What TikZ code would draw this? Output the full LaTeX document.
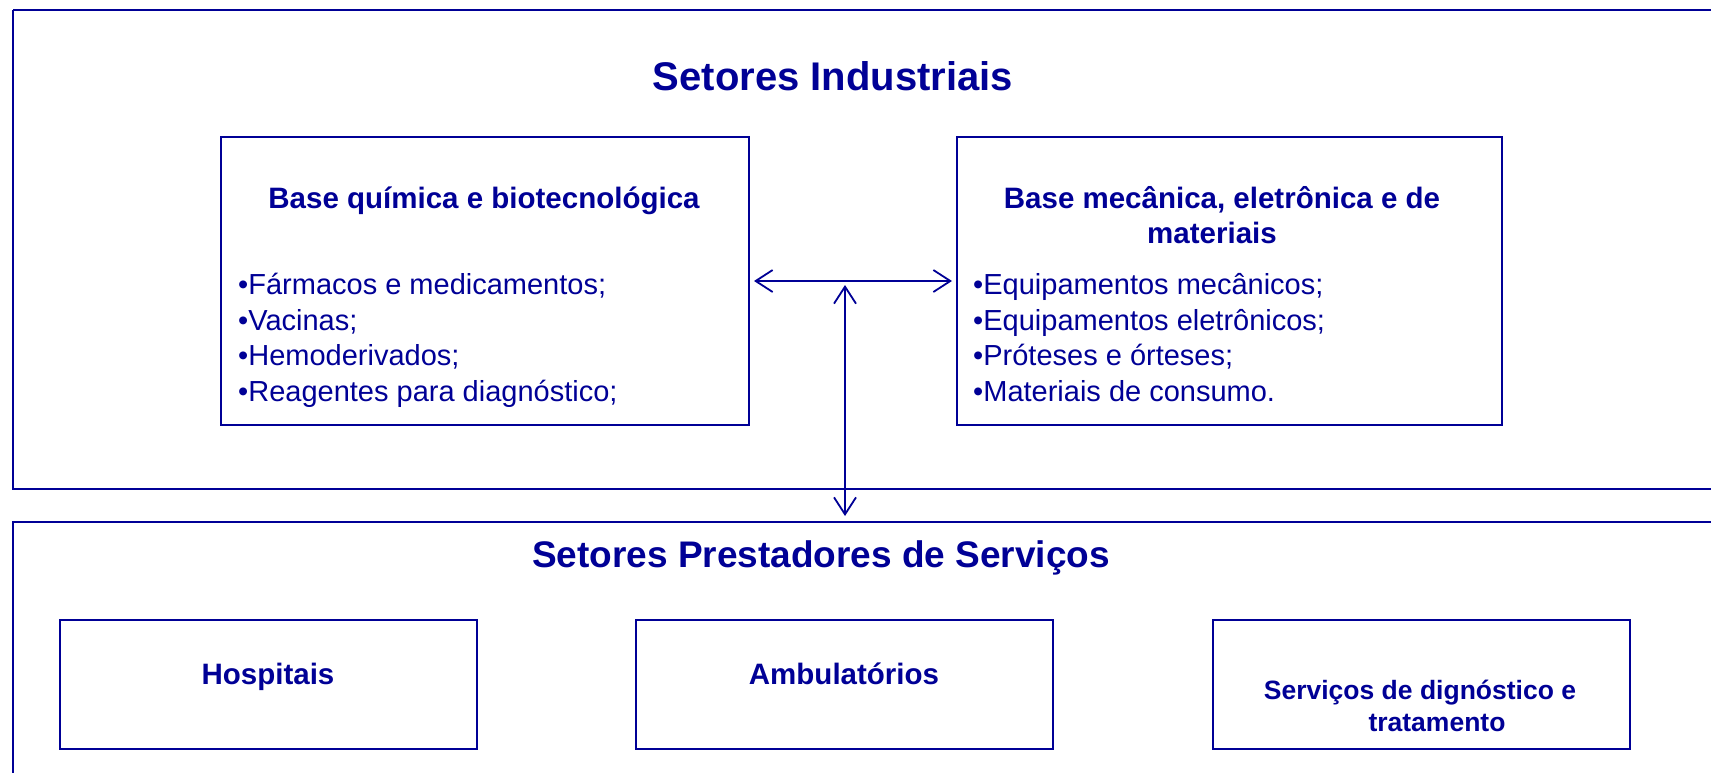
\documentclass[tikz,border=0pt]{standalone}
\usepackage{fontspec}
\setmainfont{Liberation Sans}
\usetikzlibrary{arrows.meta,calc}
\definecolor{navy}{RGB}{0,0,150}
\begin{document}
\begin{tikzpicture}[x=1pt,y=-1pt,
  frame/.style={draw=navy,line width=2pt},
  boxshape/.style={draw=navy,line width=2pt,inner sep=0pt,minimum width=#1},
  titletext/.style={text=navy,font=\bfseries\fontsize{#1}{40}\selectfont,inner sep=0pt,anchor=base},
  headtext/.style={text=navy,font=\bfseries\fontsize{29.5}{35}\selectfont,inner sep=0pt,anchor=base,align=center},
  listtext/.style={text=navy,font=\fontsize{29}{35.6}\selectfont,inner sep=0pt,anchor=base west,align=left},
  smalltext/.style={text=navy,font=\bfseries\fontsize{26.5}{32}\selectfont,inner sep=0pt,anchor=base,align=center},
  link/.style={draw=navy,line width=1.8pt,{Straight Barb[length=17pt,width=22pt,line width=1.8pt]}-{Straight Barb[length=17pt,width=22pt,line width=1.8pt]}}]
\useasboundingbox (0,0) rectangle (1711,772);
\fill[white] (0,0) rectangle (1711,772);
% outer frames
\draw[frame] (13,10) -- (1725,10) (13,10) -- (13,489) -- (1725,489);
\draw[frame] (1725,522) -- (13,522) -- (13,790);
% inner boxes
\node[boxshape=528pt,minimum height=288pt] (lbox) at (485,281) {};
\node[boxshape=545pt,minimum height=288pt] (rbox) at (1229.5,281) {};
\node[boxshape=417pt,minimum height=129pt] (hosp) at (268.5,684.5) {};
\node[boxshape=417pt,minimum height=129pt] (amb) at (844.5,684.5) {};
\node[boxshape=417pt,minimum height=129pt] (serv) at (1421.5,684.5) {};
% titles
\node[titletext=40] (t1) at (833,90) {Setores Industriais};
\node[titletext=37] (t2) at (821,567) {Setores Prestadores de Serviços};
% headings
\node[headtext] (h1) at (484,208) {Base química e biotecnológica};
\node[headtext] (h2) at (1222,208) {Base mecânica, eletrônica e de};
\node[headtext] (h3) at (1212,243) {materiais};
% lists
\node[listtext] (l1) at (238,294) {•Fármacos e medicamentos;};
\node[listtext] (l2) at (238,330) {•Vacinas;};
\node[listtext] (l3) at (238,365) {•Hemoderivados;};
\node[listtext] (l4) at (238,401) {•Reagentes para diagnóstico;};
\node[listtext] (r1) at (973,294) {•Equipamentos mecânicos;};
\node[listtext] (r2) at (973,330) {•Equipamentos eletrônicos;};
\node[listtext] (r3) at (973,365) {•Próteses e órteses;};
\node[listtext] (r4) at (973,401) {•Materiais de consumo.};
% bottom labels
\node[headtext] (b1) at (268,684) {Hospitais};
\node[headtext] (b2) at (844,684) {Ambulatórios};
\node[smalltext] (b3) at (1420,699) {Serviços de dignóstico e};
\node[smalltext] (b4) at (1437,731) {tratamento};
% connectors
\coordinate (j) at (845,285);
\coordinate (jb) at (845,516);
\draw[link] ([xshift=4pt]lbox.east) -- ([xshift=-4pt]rbox.west);
\draw[link] (j) -- (jb);
\end{tikzpicture}
\end{document}
